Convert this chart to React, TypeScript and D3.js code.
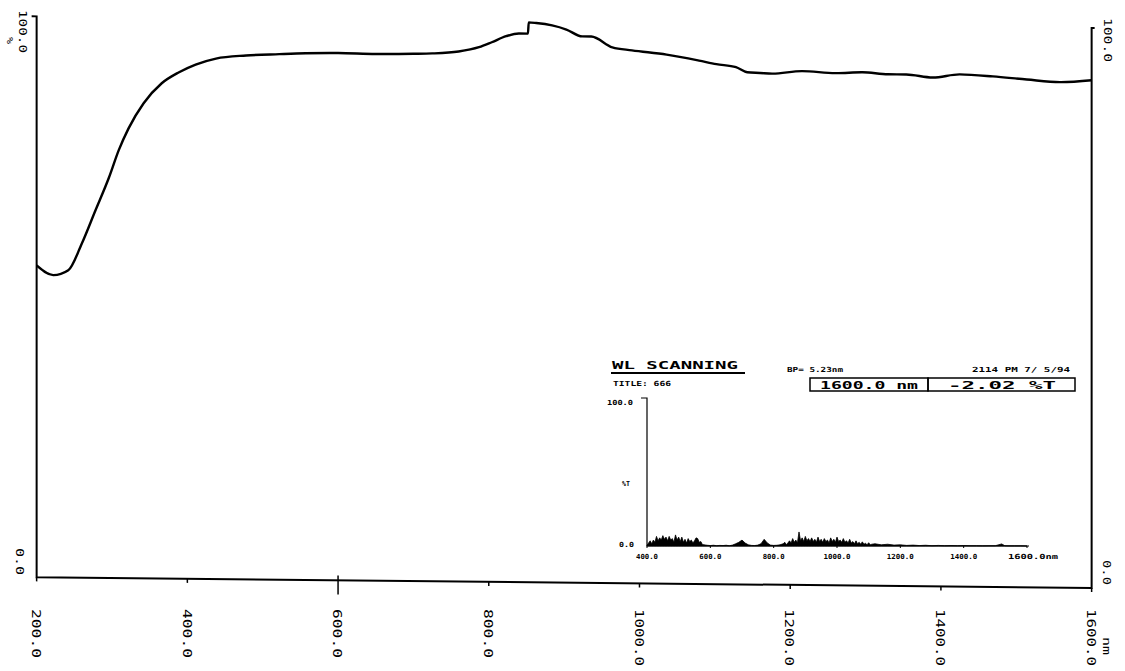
import React, { useEffect, useRef } from "react";
import * as d3 from "d3";

// main scan, %T against wavelength (nm)
const wavelength = [
  200, 222, 242, 260, 278, 296, 309, 322, 342, 366, 389, 411, 438, 478, 522,
  557, 600, 650, 700, 725, 760, 787, 804, 823, 840, 852, 853, 863, 884, 903,
  924, 936, 964, 990, 1036, 1079, 1102, 1128, 1143, 1160, 1176, 1216, 1260,
  1296, 1330, 1354, 1389, 1425, 1469, 1514, 1558, 1600,
];
const transmittance = [
  55.6, 53.9, 54.8, 59.6, 65.5, 71.4, 76.3, 80.2, 84.7, 88.3, 90.3, 91.7, 92.8,
  93.4, 93.7, 93.9, 94.0, 93.9, 94.0, 94.1, 94.5, 95.3, 96.2, 97.3, 97.8, 97.8,
  99.8, 99.7, 99.3, 98.6, 97.4, 97.4, 95.5, 95.0, 94.3, 93.3, 92.7, 92.2, 91.3,
  91.2, 91.1, 91.6, 91.3, 91.5, 91.2, 91.2, 90.7, 91.3, 91.0, 90.5, 90.1, 90.5,
];

const xTicks = [200, 400, 600, 800, 1000, 1200, 1400, 1600];
const xTickLabels = ["200.0", "400.0", "600.0", "800.0", "1000.0", "1200.0", "1400.0", "1600.0"];

// inset "WL SCANNING" trace
const insetWavelength = [
  400, 405, 410, 415, 420, 425, 430, 435, 440, 445, 450, 455, 460, 465, 470,
  475, 480, 485, 490, 495, 500, 505, 510, 515, 520, 525, 530, 535, 540, 545,
  550, 555, 560, 565, 570, 575, 580, 590, 600, 610, 620, 630, 640, 650, 660,
  670, 680, 690, 700, 710, 720, 730, 740, 750, 760, 770, 780, 790, 800, 810,
  820, 830, 835, 840, 845, 850, 855, 860, 865, 870, 875, 880, 885, 890, 895,
  900, 905, 910, 915, 920, 925, 930, 935, 940, 945, 950, 955, 960, 965, 970,
  975, 980, 985, 990, 995, 1000, 1005, 1010, 1015, 1020, 1025, 1030, 1035,
  1040, 1045, 1050, 1055, 1060, 1065, 1070, 1075, 1080, 1085, 1090, 1095,
  1100, 1105, 1110, 1120, 1140, 1160, 1180, 1200, 1220, 1240, 1260, 1280,
  1300, 1320, 1340, 1360, 1380, 1400, 1420, 1440, 1460, 1480, 1500, 1520,
  1530, 1540, 1560, 1580, 1600,
];
const insetT = [
  0.5, 2, 3.5, 1.5, 4, 2.5, 6.5, 3.5, 5.5, 4, 7, 4.5, 6, 3.5, 6.5,
  4, 5, 2.5, 7.5, 4, 6, 3, 6, 2.5, 4.5, 2, 5, 3, 4, 2,
  3.5, 5.5, 5, 2.5, 3, 1, 0.8, 0.5, 0.3, 0.5, 0.2, 0.4, 0.3, 0.5, 0.2,
  0.6, 1.5, 2.5, 4, 2, 0.8, 0.4, 0.3, 0.6, 1.5, 4.5, 2, 0.6, 0.4, 0.5,
  0.8, 1.5, 2.5, 1, 2, 3.5, 2, 5, 2.5, 4, 2, 9.5, 3.5, 5.5, 3,
  6.5, 3.5, 5, 3, 5.5, 3, 4.5, 2.5, 6, 3, 4.5, 2.5, 5, 3, 4,
  2, 5.5, 3, 4.5, 2.5, 6, 3, 4, 2.5, 5, 2.5, 3.5, 2,
  4.5, 2, 3, 1.5, 3.5, 1.5, 2.5, 1.2, 2.8, 1.2, 1.8, 0.8,
  2.2, 0.8, 1.2, 1.5, 0.8, 1.2, 0.6, 0.8, 0.4, 0.6, 0.3, 0.5,
  0.2, 0.4, 0.2, 0.3, 0.2, 0.3, 0.2, 0.2, 0.1, 0.2, 0.2, 1.4,
  0.2, 0.1, 0.1, 0.1, 0,
];
const insetTicks = [400, 600, 800, 1000, 1200, 1400, 1600];
const insetTickLabels = ["400.0", "600.0", "800.0", "1000.0", "1200.0", "1400.0", "1600.0nm"];

const FONT = "'DejaVu Sans Mono', monospace";

const x = d3.scaleLinear().domain([200, 1600]).range([37, 1092]);
const y = d3.scaleLinear().domain([0, 100]).range([577, 16]);

const xi = d3.scaleLinear().domain([400, 1600]).range([647, 1027]);
const yi = d3.scaleLinear().domain([0, 100]).range([546, 398]);

export default function App() {
  const ref = useRef<SVGSVGElement>(null);

  useEffect(() => {
    const svg = d3.select(ref.current);
    svg.selectAll("*").remove();

    // the scanned page is slightly skewed
    const plot = svg.append("g").attr("transform", "matrix(1,0.01,0,1,-0.37,0)");

    // axes
    plot
      .append("path")
      .attr("d", `M${x(200) - 5},${y(100)}H${x(200)}V${y(0)}H${x(1600)}V${y(100) + 1}h3`)
      .attr("fill", "none")
      .attr("stroke", "#000")
      .attr("stroke-width", 2);

    plot
      .selectAll(".tick")
      .data(xTicks)
      .enter()
      .append("line")
      .attr("x1", (d) => x(d))
      .attr("x2", (d) => x(d))
      .attr("y1", (d) => (d === 600 ? y(0) - 5 : y(0)))
      .attr("y2", (d) => (d === 600 ? y(0) + 14 : y(0) + 4))
      .attr("stroke", "#000")
      .attr("stroke-width", 1.5);

    // curve
    const line = d3
      .line<number>()
      .x((d) => x(d))
      .y((d, i) => y(transmittance[i]))
      .curve(d3.curveMonotoneX);

    plot
      .append("path")
      .datum(wavelength)
      .attr("d", line)
      .attr("fill", "none")
      .attr("stroke", "#000")
      .attr("stroke-width", 2.4)
      .attr("stroke-linejoin", "round");

    // rotated labels
    const vtext = (tx, ty, s, len, size = 11) =>
      svg
        .append("text")
        .attr("transform", `translate(${tx},${ty}) rotate(90)`)
        .attr("dy", "0.35em")
        .attr("textLength", len)
        .attr("lengthAdjust", "spacingAndGlyphs")
        .style("font-family", FONT)
        .style("font-size", size + "px")
        .style("fill", "#000")
        .text(s);

    xTicks.forEach((d, i) => {
      vtext(x(d) - 1, 609, xTickLabels[i], xTickLabels[i].length > 5 ? 57 : 49, 12);
    });
    vtext(1107, 637, "nm", 18, 11);
    vtext(23, 10, "100.0", 43);
    vtext(10, 37, "%", 7, 8);
    vtext(20, 548, "0.0", 27);
    vtext(1108, 18, "100.0", 44);
    vtext(1107, 560, "0.0", 25);

    // ---- inset
    const ins = svg.append("g");
    const txt = (tx, ty, s, size, len, anchor = "start", weight = "bold") =>
      ins
        .append("text")
        .attr("x", tx)
        .attr("y", ty)
        .attr("textLength", len)
        .attr("lengthAdjust", "spacingAndGlyphs")
        .style("text-anchor", anchor)
        .style("font-family", FONT)
        .style("font-weight", weight)
        .style("font-size", size + "px")
        .text(s);

    txt(612, 369, "WL SCANNING", 10, 126, "start");
    ins
      .append("line")
      .attr("x1", 611)
      .attr("x2", 745)
      .attr("y1", 373)
      .attr("y2", 373)
      .attr("stroke", "#000")
      .attr("stroke-width", 2);
    txt(613, 386, "TITLE: 666", 7, 58);
    txt(787, 372, "BP= 5.23nm", 7, 56);
    txt(972, 372, "2114 PM  7/ 5/94", 7, 98);

    ins
      .append("rect")
      .attr("x", 810)
      .attr("y", 378)
      .attr("width", 118)
      .attr("height", 13)
      .attr("fill", "none")
      .attr("stroke", "#000")
      .attr("stroke-width", 1.5);
    ins
      .append("rect")
      .attr("x", 928)
      .attr("y", 378)
      .attr("width", 147)
      .attr("height", 13)
      .attr("fill", "none")
      .attr("stroke", "#000")
      .attr("stroke-width", 1.5);
    txt(869, 389, "1600.0 nm", 10, 98, "middle");
    txt(1002, 389, "-2.02 %T", 10, 108, "middle");

    // inset axes
    ins
      .append("path")
      .attr("d", `M${xi(400) - 6},${yi(100)}H${xi(400)}V${yi(0)}H${xi(1600) + 2}`)
      .attr("fill", "none")
      .attr("stroke", "#000")
      .attr("stroke-width", 1.2);

    ins
      .selectAll(".itick")
      .data(insetTicks)
      .enter()
      .append("line")
      .attr("x1", (d) => xi(d))
      .attr("x2", (d) => xi(d))
      .attr("y1", yi(0))
      .attr("y2", yi(0) + 2)
      .attr("stroke", "#000");

    insetTicks.forEach((d, i) => {
      const last = i === insetTicks.length - 1;
      txt(last ? xi(d) - 19 : xi(d), 559, insetTickLabels[i], 7, last ? 50 : i > 2 ? 27 : 22, last ? "start" : "middle");
    });
    txt(633, 405, "100.0", 7, 26, "end");
    txt(630, 486, "%T", 7, 8, "end");
    txt(634, 547, "0.0", 7, 15, "end");

    const area = d3
      .area<number>()
      .x((d) => xi(d))
      .y0(yi(0))
      .y1((d, i) => yi(insetT[i]));

    ins
      .append("path")
      .datum(insetWavelength)
      .attr("d", area)
      .attr("fill", "#000")
      .attr("stroke", "#000")
      .attr("stroke-width", 0.8);
  }, []);

  return (
    <svg
      ref={ref}
      width={1125}
      height={671}
      style={{ position: "absolute", left: 0, top: 0, background: "#fff" }}
    />
  );
}
